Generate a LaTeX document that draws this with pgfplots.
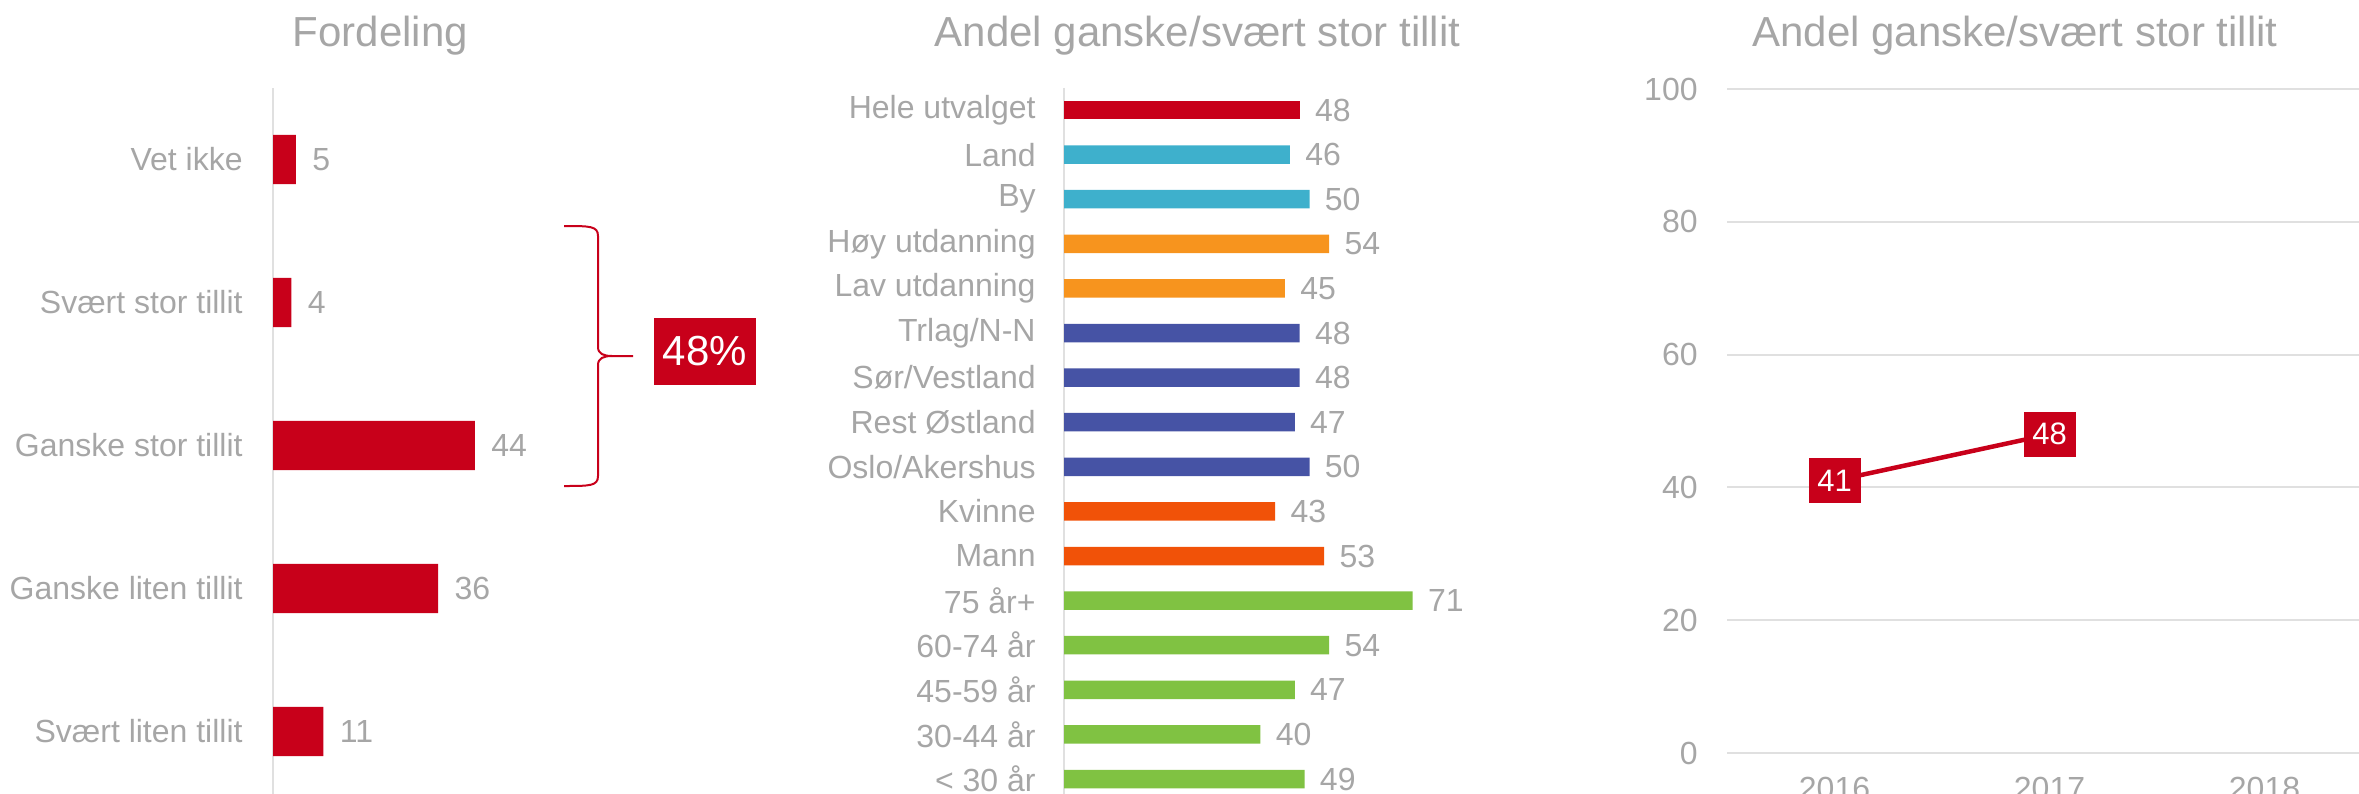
\documentclass[border=0pt]{standalone}
\usepackage{pgfplots}
\pgfplotsset{compat=1.18}
\usepackage{fontspec}
\setmainfont{Liberation Sans}
\definecolor{cred}{HTML}{C8001A}
\definecolor{cteal}{HTML}{3EB0CC}
\definecolor{corange}{HTML}{F7941E}
\definecolor{cindigo}{HTML}{4653A5}
\definecolor{cored}{HTML}{F15208}
\definecolor{cgreen}{HTML}{80C242}
\definecolor{txtgray}{HTML}{A6A6A6}
\definecolor{axgray}{HTML}{E0E0E0}
\newcommand\lab{\fontsize{16bp}{19bp}\selectfont}
\newcommand\ttl{\fontsize{21bp}{25bp}\selectfont}
\begin{document}
\begin{tikzpicture}
\useasboundingbox (0,0) rectangle (1179.5bp,-397bp);
\clip (0,0) rectangle (1179.5bp,-397bp);
\pgfplotsset{
  barpanel/.style={
    scale only axis, anchor=north west, xbar, bar shift=0pt,
    xmin=0, y dir=reverse, enlargelimits=false,
    axis x line=none, axis y line*=left,
    axis line style={draw=axgray, line width=1bp},
    major tick length=0pt, ytick style={draw=none},
    /pgf/number format/assume math mode=true,
    yticklabel style={font=\lab, text=txtgray, inner sep=0pt, anchor=east},
    nodes near coords,
    every node near coord/.append style={font=\lab, text=txtgray, inner sep=0pt, anchor=west},
    clip=false,
  }
}
% Titles
\node[anchor=base, font=\ttl, text=txtgray] at (190.25bp,-23bp) {Fordeling};
\node[anchor=base, font=\ttl, text=txtgray] at (598.75bp,-23bp) {Andel ganske/svært stor tillit};
\node[anchor=base, font=\ttl, text=txtgray] at (1007.5bp,-23bp) {Andel ganske/svært stor tillit};

% Panel 1
\begin{axis}[barpanel,
  at={(136.5bp,-44bp)}, width=114.75bp, height=357.5bp,
  xmax=50, ymin=-0.5, ymax=4.5, bar width=0.343,
  ytick={0,...,4},
  yticklabels={Vet ikke, Svært stor tillit, Ganske stor tillit, Ganske liten tillit, Svært liten tillit},
  yticklabel style={xshift=-15bp},
  every node near coord/.append style={xshift=8bp},
]
\addplot[fill=cred, draw=none] coordinates {(5,0) (4,1) (44,2) (36,3) (11,4)};
\end{axis}

% Brace and 48% box
\draw[cred, line width=1bp] (282bp,-113bp) .. controls (295bp,-113bp) and (299bp,-113bp) .. (299bp,-118bp) -- (299bp,-173.5bp) .. controls (299bp,-177bp) and (302bp,-178bp) .. (306bp,-178bp) -- (316.5bp,-178bp);
\draw[cred, line width=1bp] (306bp,-178bp) .. controls (302bp,-178bp) and (299bp,-179bp) .. (299bp,-182.5bp) -- (299bp,-238bp) .. controls (299bp,-243bp) and (295bp,-243bp) .. (282bp,-243bp);
\node[fill=cred, text=white, minimum width=51bp, minimum height=33.5bp, inner sep=0pt, font=\fontsize{21bp}{25bp}\selectfont] at (352.5bp,-175.75bp) {48\%};

% Panel 2
\begin{axis}[barpanel,
  at={(532bp,-43.85bp)}, width=196.4bp, height=356.8bp,
  xmax=80, ymin=-0.5, ymax=15.5, bar width=0.415,
  ytick={0,...,15},
  yticklabels={Hele utvalget, Land, By, Høy utdanning, Lav utdanning, Trlag/N-N, Sør/Vestland, Rest Østland, Oslo/Akershus, Kvinne, Mann, 75 år+, 60-74 år, 45-59 år, 30-44 år, < 30 år},
  yticklabel style={xshift=-14bp},
  every node near coord/.append style={xshift=7.5bp},
]
\addplot[fill=cred, draw=none] coordinates {(48,0)};
\addplot[fill=cteal, draw=none] coordinates {(46,1) (50,2)};
\addplot[fill=corange, draw=none] coordinates {(54,3) (45,4)};
\addplot[fill=cindigo, draw=none] coordinates {(48,5) (48,6) (47,7) (50,8)};
\addplot[fill=cored, draw=none] coordinates {(43,9) (53,10)};
\addplot[fill=cgreen, draw=none] coordinates {(71,11) (54,12) (47,13) (40,14) (49,15)};
\end{axis}

% Panel 3
\begin{axis}[
  at={(863.5bp,-44.5bp)}, anchor=north west, scale only axis, width=430bp, height=332bp,
  xmin=2015.5, xmax=2019.5, ymin=0, ymax=100,
  xtick={2016,2017,2018,2019}, ytick={0,20,40,60,80,100},
  ymajorgrids, grid style={draw=axgray, line width=1bp},
  axis line style={draw=none}, major tick length=0pt, tick style={draw=none},
  /pgf/number format/assume math mode=true,
  /pgf/number format/1000 sep={},
  xticklabel style={font=\lab, text=txtgray, inner sep=0pt, anchor=north, yshift=-12bp},
  yticklabel style={font=\lab, text=txtgray, inner sep=0pt, anchor=east, xshift=-14.5bp},
  clip=false,
]
\addplot[cred, line width=2.25bp, mark=none, nodes near coords,
  every node near coord/.append style={anchor=center, fill=cred, text=white, inner sep=0pt, minimum width=26bp, minimum height=22.5bp, font=\fontsize{15.5bp}{18bp}\selectfont}]
  coordinates {(2016,41) (2017,48)};
\end{axis}
\end{tikzpicture}
\end{document}
